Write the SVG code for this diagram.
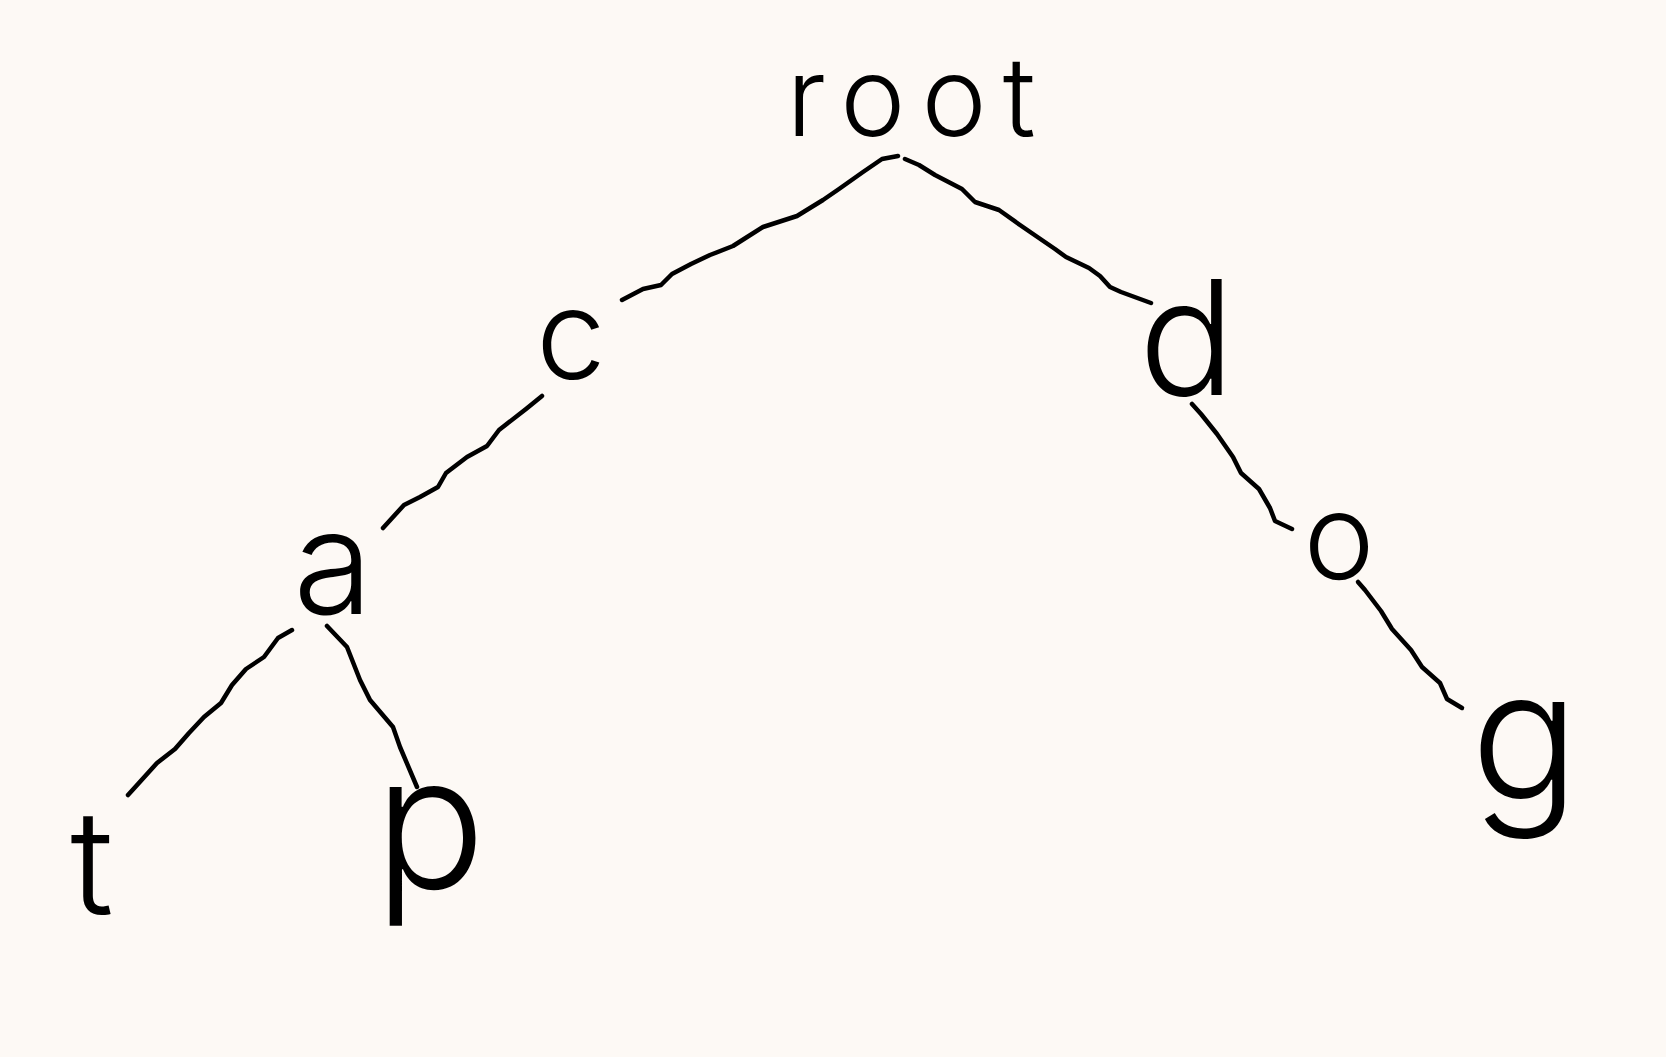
<svg xmlns="http://www.w3.org/2000/svg" width="1666" height="1057" viewBox="0 0 1666 1057">
<style>
.lbl{font-family:"Inter","Lato","Liberation Sans",sans-serif;font-weight:300;fill:#000;text-anchor:middle}
.edge{fill:none;stroke:#000;stroke-width:4.5;stroke-linecap:round;stroke-linejoin:round}
</style>
<rect width="1666" height="1057" fill="#fdf9f5"/>
<g id="connectors">
<polyline class="edge" points="898,156 882,159 863,172 839,189 823,200 797,216 763,227 744,239 733,246 710,255 691,264 672,274 661,285 643,289 622,300"/>
<polyline class="edge" points="905,159 919,165 935,175 962,189 975,202 999,210 1020,225 1036,236 1055,249 1066,257 1089,268 1100,276 1110,287 1121,292 1151,303"/>
<polyline class="edge" points="542,396 526,409 499,430 487,446 467,457 446,473 438,487 420,497 404,505 383,528"/>
<polyline class="edge" points="1192,404 1201,414 1217,434 1233,457 1241,473 1259,489 1270,508 1275,521 1292,529"/>
<polyline class="edge" points="1358,582 1365,590 1381,611 1392,629 1411,650 1422,667 1440,683 1447,699 1462,708"/>
<polyline class="edge" points="292,630 278,638 264,657 246,669 232,685 221,703 204,717 189,733 175,749 157,763 138,784 128,795"/>
<polyline class="edge" points="327,626 347,647 360,680 370,700 393,727 400,747 417,787"/>
</g>
<g id="node-root"><text class="lbl" x="919" y="136" font-size="110" letter-spacing="16">root</text></g>
<g id="node-c"><text class="lbl" x="571" y="379" font-size="125">c</text></g>
<g id="node-d"><text class="lbl" x="1187" y="395" font-size="160">d</text></g>
<g id="node-a"><text class="lbl" x="333" y="614" font-size="145">a</text></g>
<g id="node-o"><text class="lbl" x="1339" y="579" font-size="120">o</text></g>
<g id="node-g"><text class="lbl" x="1525" y="800" font-size="180">g</text></g>
<g id="node-t"><text class="lbl" x="92" y="914" font-size="145">t</text></g>
<g id="node-p"><text class="lbl" x="430" y="888" font-size="185">p</text></g>
</svg>
